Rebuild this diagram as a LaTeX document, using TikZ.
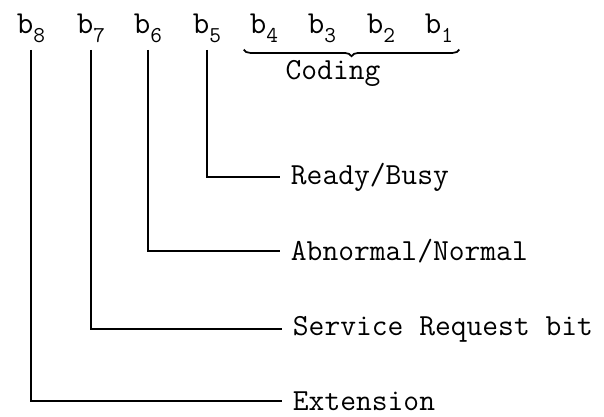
\documentclass[tikz,border=0pt]{standalone}
\usepackage{tikz}
\usetikzlibrary{decorations.pathreplacing}

\newcommand{\bitname}[1]{b\raisebox{-6.5pt}{\fontsize{17}{17}\selectfont #1}}

\begin{document}
\begin{tikzpicture}[x=0.75pt, y=-0.75pt,
  bit/.style={font=\ttfamily\fontsize{24}{28}\selectfont, inner xsep=4.5pt, inner ysep=5pt, anchor=base},
  desc/.style={font=\ttfamily\fontsize{23}{27}\selectfont, inner xsep=8pt, inner ysep=0pt, anchor=west},
  wire/.style={line width=1.3pt}]
\useasboundingbox (0,0) rectangle (604,417);

\node[bit] (b8) at (31,34) {\bitname{8}};
\node[bit] (b7) at (91,34) {\bitname{7}};
\node[bit] (b6) at (148,34) {\bitname{6}};
\node[bit] (b5) at (207,34) {\bitname{5}};
\node[bit] (b4) at (264,34) {\bitname{4}};
\node[bit] (b3) at (322,34) {\bitname{3}};
\node[bit] (b2) at (381,34) {\bitname{2}};
\node[bit] (b1) at (439,34) {\bitname{1}};

\draw[wire, decorate, decoration={brace, mirror, amplitude=5pt}] (b4.south west) -- (b1.south east);
\node[desc, anchor=center] (coding) at (333,73) {Coding};

\node[desc] (ready) at (280,177) {Ready/Busy};
\node[desc] (abnormal) at (280,251) {Abnormal/Normal};
\node[desc] (service) at (282,329) {Service Request bit};
\node[desc] (extension) at (282,401) {Extension};

\draw[wire] (b5.south) |- (ready.west);
\draw[wire] (b6.south) |- (abnormal.west);
\draw[wire] (b7.south) |- (service.west);
\draw[wire] (b8.south) |- (extension.west);
\end{tikzpicture}
\end{document}
